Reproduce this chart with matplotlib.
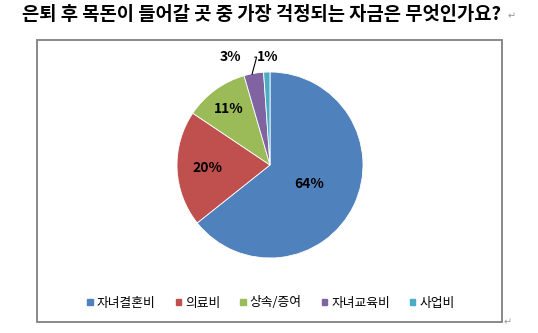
import numpy as np
import matplotlib
matplotlib.use("Agg")
import matplotlib.pyplot as plt
from matplotlib.patches import Rectangle

plt.rcParams['font.family'] = ['Noto Sans CJK KR', 'DejaVu Sans']

title = "은퇴 후 목돈이 들어갈 곳 중 가장 걱정되는 자금은 무엇인가요?"
categories = ["자녀결혼비", "의료비", "상속/증여", "자녀교육비", "사업비"]
values = [64.3, 20.1, 11.1, 3.4, 1.1]
colors = ["#4F81BD", "#C0504D", "#9BBB59", "#8064A2", "#4BACC6"]

W, H = 538, 333
fig = plt.figure(figsize=(W / 100, H / 100), dpi=100)

# outer frame
fig.patches.append(Rectangle((37 / W, 1 - 322 / H), (502 - 37) / W, (322 - 40) / H,
                             transform=fig.transFigure, fill=False,
                             edgecolor="#808080", linewidth=1.3))

fig.text(261 / W, 1 - 14 / H, title, ha="center", va="center",
         fontsize=13.5, fontweight="bold", color="black")
fig.text(512 / W, 1 - 16 / H, "↵", ha="center", va="center", fontsize=7,
         color="#999999", family=["DejaVu Sans"])
fig.text(508 / W, 1 - 322 / H, "↵", ha="center", va="center", fontsize=7,
         color="#999999", family=["DejaVu Sans"])

cx, cy, r = 270, 165, 93
ax = fig.add_axes([(cx - r) / W, 1 - (cy + r) / H, 2 * r / W, 2 * r / H])
wedges, _ = ax.pie(values, colors=colors, startangle=90, counterclock=False,
                   radius=1, wedgeprops=dict(edgecolor="white", linewidth=0.6))
ax.set_xlim(-1, 1)
ax.set_ylim(-1, 1)
ax.set_aspect("equal")
ax.axis("off")

lab_kw = dict(ha="center", va="center", fontsize=10, fontweight="bold",
              family=["Noto Sans CJK KR", "DejaVu Sans"])
label_dist = [0.47, 0.67, 0.75]
for w, v, d in zip(wedges[:3], values[:3], label_dist):
    ang = np.deg2rad((w.theta1 + w.theta2) / 2)
    ax.text(d * np.cos(ang), d * np.sin(ang), f"{v:.0f}%", **lab_kw)

# outside labels for small slices
w3 = wedges[3]
a3 = np.deg2rad((w3.theta1 + w3.theta2) / 2)
ax.annotate(f"{values[3]:.0f}%", xy=(np.cos(a3) * 0.99 - 0.02, np.sin(a3) * 0.99),
            xytext=(-0.43, 1.16), annotation_clip=False,
            arrowprops=dict(arrowstyle="-", color="black", lw=0.8,
                            connectionstyle="angle,angleA=0,angleB=75,rad=0",
                            shrinkA=8, shrinkB=0), **lab_kw)
ax.text(-0.02, 1.16, f"{values[4]:.0f}%", **lab_kw)

# legend
handles = [plt.Rectangle((0, 0), 1, 1, color=c) for c in colors]
fig.legend(handles, categories, loc="center", bbox_to_anchor=(271 / W, 1 - 303 / H),
           ncol=5, frameon=False, fontsize=9.2, handlelength=0.45, handleheight=0.45,
           handletextpad=0.3, columnspacing=1.55)

fig.savefig("out.png", dpi=100)
